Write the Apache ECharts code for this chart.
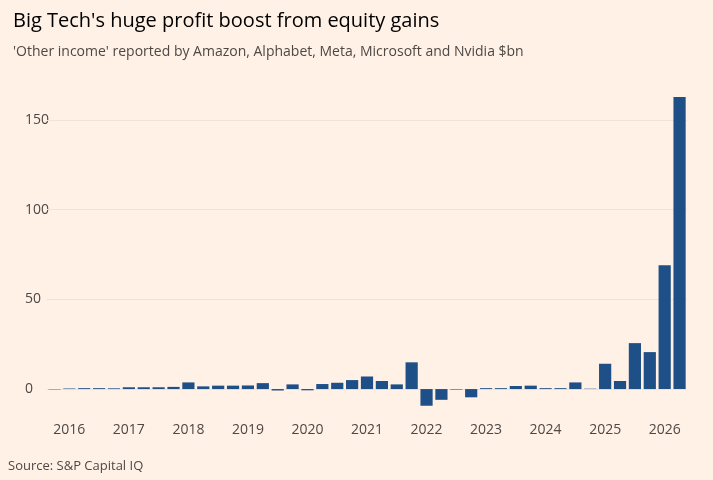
<!DOCTYPE html>
<html>
<head>
<meta charset="utf-8">
<title>Big Tech other income</title>
<script src="https://cdn.jsdelivr.net/npm/echarts@6/dist/echarts.min.js"></script>
<style>
  html, body { margin: 0; padding: 0; background: #fff1e5; }
  #main { width: 713px; height: 480px; }
</style>
</head>
<body>
<div id="main"></div>
<script>
// quarters, 2015 Q4 .. 2026 Q2
var years = [2016, 2017, 2018, 2019, 2020, 2021, 2022, 2023, 2024, 2025, 2026];
var quarters = ['2015 Q4'];
years.forEach(function (y) {
  for (var q = 1; q <= 4; q++) {
    if (y === 2026 && q > 2) break;
    quarters.push(y + ' Q' + q);
  }
});
// 'Other income' $bn
var otherIncome = [
  -0.2,
  0.3, 0.5, 0.5, 0.4,
  1.0, 1.0, 1.0, 1.2,
  3.7, 1.5, 1.9, 1.9,
  2.0, 3.3, -0.8, 2.6,
  -0.7, 2.8, 3.5, 5.0,
  7.0, 4.5, 2.6, 14.9,
  -9.3, -6.0, -0.3, -4.6,
  0.5, 0.5, 1.7, 1.9,
  0.5, 0.5, 3.7, 0.2,
  14.1, 4.5, 25.6, 20.6,
  69, 162.8
];
var yTicks = [0, 50, 100, 150];

var chart = echarts.init(document.getElementById('main'));
chart.setOption({
  backgroundColor: '#fff1e5',
  textStyle: { fontFamily: 'Open Sans' },
  title: {
    text: "Big Tech's huge profit boost from equity gains",
    subtext: "'Other income' reported by Amazon, Alphabet, Meta, Microsoft and Nvidia $bn",
    left: 8, top: 6,
    textStyle: { fontSize: 20, fontWeight: 'normal', color: '#000000' },
    subtextStyle: { fontSize: 14, color: '#4d4845' },
    itemGap: 14
  },
  graphic: [{
    type: 'text', left: 8, top: 460,
    style: { text: 'Source: S&P Capital IQ', fontSize: 13, fill: '#4d4845', fontFamily: 'Open Sans' }
  }],
  grid: { left: 47, right: 26, top: 93, bottom: 73 },
  xAxis: {
    type: 'category',
    data: quarters,
    axisLine: { onZero: false, show: false },
    axisTick: { show: false },
    axisLabel: {
      interval: function (i) { return (i - 1) % 4 === 0; },
      formatter: function (v) { return v.slice(0, 4); },
      color: '#4d4845', fontSize: 14, margin: 16
    }
  },
  yAxis: {
    type: 'value',
    min: -10, max: 165, interval: 10,
    position: 'left',
    axisLine: { show: false },
    axisTick: { show: false },
    splitLine: { show: false },
    axisLabel: {
      formatter: function (v) { return yTicks.indexOf(v) >= 0 ? String(v) : ''; },
      color: '#4d4845', fontSize: 14, align: 'left', margin: 22
    }
  },
  series: [{
    type: 'bar',
    data: otherIncome,
    barCategoryGap: '18%',
    z: 3,
    itemStyle: { color: '#1e4f86' },
    markLine: {
      silent: true, symbol: 'none', label: { show: false }, z: 1,
      lineStyle: { color: '#f3e2d4', type: 'solid', width: 1 },
      data: yTicks.map(function (t) { return { yAxis: t }; })
    }
  }]
});
</script>
</body>
</html>
